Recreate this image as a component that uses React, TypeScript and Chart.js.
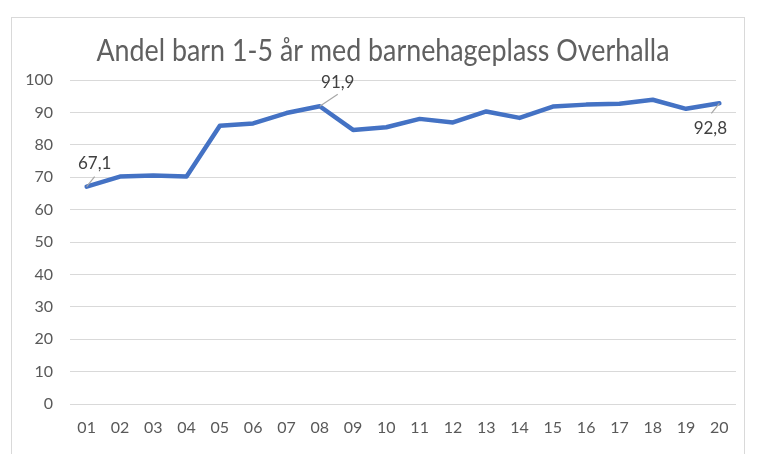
import React, { useEffect, useRef } from "react";
import { Chart, registerables } from "chart.js";

Chart.register(...registerables);

const TITLE = "Andel barn 1-5 år med barnehageplass Overhalla";
const categories = ["01","02","03","04","05","06","07","08","09","10","11","12","13","14","15","16","17","18","19","20"];
const values = [67.1, 70.2, 70.5, 70.2, 85.9, 86.6, 89.8, 91.9, 84.6, 85.4, 88.0, 86.9, 90.3, 88.3, 91.8, 92.4, 92.7, 93.9, 91.1, 92.8];
const yTicks = [0, 10, 20, 30, 40, 50, 60, 70, 80, 90, 100];
const labelledIndices = [0, 7, 19];
// label offsets (style): [dx, dy, leaderEndDx, leaderEndDy]
const labelOffsets: Record<number, number[]> = {
  0: [8, -23, 8, -10],
  7: [18, -24, 18, -12],
  19: [-9, 25, -8, 10],
};

const fmt = (v: number) => v.toFixed(1).replace(".", ",");

export default function App() {
  const ref = useRef<HTMLCanvasElement | null>(null);
  useEffect(() => {
    if (!ref.current) return;
    const titlePlugin = {
      id: "customTitle",
      afterDraw(chart: any) {
        const ctx = chart.ctx;
        ctx.save();
        ctx.font = "400 30px Lato";
        ctx.fillStyle = "#606060";
        ctx.textAlign = "center";
        ctx.textBaseline = "alphabetic";
        ctx.fillText(TITLE, 383, 61, 573);
        ctx.restore();
      },
    };
    const labelPlugin = {
      id: "dataLabels",
      afterDatasetsDraw(chart: any) {
        const ctx = chart.ctx;
        const xs = chart.scales.x;
        const ys = chart.scales.y;
        ctx.save();
        labelledIndices.forEach((i) => {
          const px = xs.getPixelForValue(i);
          const py = ys.getPixelForValue(values[i]);
          const o = labelOffsets[i];
          ctx.strokeStyle = "#a6a6a6";
          ctx.lineWidth = 1.2;
          ctx.beginPath();
          ctx.moveTo(px, py);
          ctx.lineTo(px + o[2], py + o[3]);
          ctx.stroke();
          ctx.font = "17px Lato";
          ctx.fillStyle = "#404040";
          ctx.textAlign = "center";
          ctx.textBaseline = "middle";
          ctx.fillText(fmt(values[i]), px + o[0], py + o[1]);
        });
        ctx.restore();
      },
    };
    const chart = new Chart(ref.current, {
      type: "line",
      data: {
        labels: categories,
        datasets: [
          {
            data: values,
            borderColor: "#4472C4",
            borderWidth: 4.5,
            pointRadius: 0,
            tension: 0,
            borderCapStyle: "round",
            borderJoinStyle: "round",
          },
        ],
      },
      options: {
        animation: false,
        responsive: false,
        layout: { padding: { top: 80, right: 25, left: 0, bottom: 0 } },
        plugins: { legend: { display: false }, title: { display: false }, tooltip: { enabled: false } },
        scales: {
          x: {
            offset: true,
            grid: { display: false, drawTicks: false },
            border: { display: false },
            ticks: { color: "#595959", font: { family: "Lato", size: 16 }, padding: 14, maxRotation: 0, autoSkip: false },
            afterFit: (s: any) => { s.height = 50; },
          },
          y: {
            min: 0,
            max: 100,
            afterBuildTicks: (s: any) => { s.ticks = yTicks.map((v) => ({ value: v })); },
            grid: { color: "#d9d9d9", lineWidth: 1, drawTicks: false },
            border: { display: false },
            ticks: { color: "#595959", font: { family: "Lato", size: 16 }, padding: 17 },
            afterFit: (s: any) => { s.width = 70; },
          },
        },
      },
      plugins: [titlePlugin, labelPlugin],
    } as any);
    return () => chart.destroy();
  }, []);
  return (
    <div style={{ position: "fixed", left: 0, top: 0, width: 761, height: 454, background: "#fff", overflow: "hidden" }}>
      <div style={{ position: "absolute", left: 11, top: 17, width: 732, height: 460, border: "1px solid #d9d9d9" }} />
      <canvas ref={ref} width={761} height={454} style={{ position: "absolute", left: 0, top: 0 }} />
    </div>
  );
}
